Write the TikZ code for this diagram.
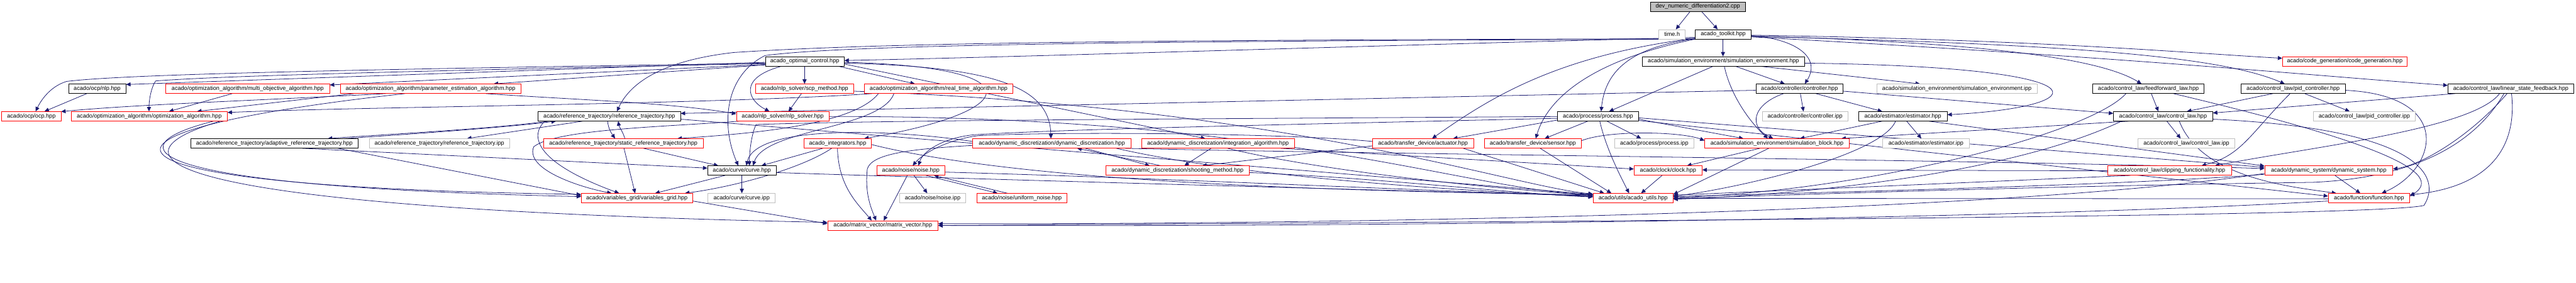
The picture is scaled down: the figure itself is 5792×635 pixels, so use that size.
\documentclass[tikz,border=0pt]{standalone}
\usepackage{fontspec}
\setmainfont{Liberation Sans}
\usetikzlibrary{arrows.meta,backgrounds}
\definecolor{edgec}{HTML}{191970}
\definecolor{redc}{HTML}{FF0000}
\definecolor{grayc}{HTML}{BFBFBF}
\tikzset{
 nb/.style={draw, fill=white, line width=1pt, inner sep=0pt, minimum height=21pt, font=\fontsize{12.9}{15}\selectfont, text=black},
 rb/.style={nb, draw=redc},
 kb/.style={nb, draw=black},
 gb/.style={nb, draw=grayc},
 dep/.style={draw=edgec, line width=1.1pt, -{Triangle[length=10pt,width=9pt]}},
}
\begin{document}
\begin{tikzpicture}[x=1pt,y=-1pt]
\useasboundingbox (0,0) rectangle (5792,635);
% ---------- nodes ----------
\node[kb, fill=grayc, minimum width=213pt] (dev) at (3817.5,15) {dev\_numeric\_differentiation2.cpp};
\node[gb, minimum width=59pt] (timeh) at (3759.5,77) {time.h};
\node[kb, minimum width=125pt] (toolkit) at (3874.5,77) {acado\_toolkit.hpp};
\node[kb, minimum width=177pt] (aoc) at (1809.5,138) {acado\_optimal\_control.hpp};
\node[kb, minimum width=364pt] (simenv) at (3875,138) {acado/simulation\_environment/simulation\_environment.hpp};
\node[rb, minimum width=280pt] (codegen) at (5272,138) {acado/code\_generation/code\_generation.hpp};
\node[kb, minimum width=129pt] (nlp) at (218.5,199.5) {acado/ocp/nlp.hpp};
\node[rb, minimum width=368pt] (moa) at (557,199.5) {acado/optimization\_algorithm/multi\_objective\_algorithm.hpp};
\node[rb, minimum width=406pt] (pea) at (968,199.5) {acado/optimization\_algorithm/parameter\_estimation\_algorithm.hpp};
\node[rb, minimum width=220pt] (scp) at (1809,199.5) {acado/nlp\_solver/scp\_method.hpp};
\node[rb, minimum width=333pt] (rta) at (2110.5,199.5) {acado/optimization\_algorithm/real\_time\_algorithm.hpp};
\node[kb, minimum width=196pt] (ctrl) at (4046,199.5) {acado/controller/controller.hpp};
\node[gb, minimum width=360pt] (simenvipp) at (4400,199.5) {acado/simulation\_environment/simulation\_environment.ipp};
\node[kb, minimum width=251pt] (ffl) at (4830.5,199.5) {acado/control\_law/feedforward\_law.hpp};
\node[kb, minimum width=234pt] (pid) at (5156,199.5) {acado/control\_law/pid\_controller.hpp};
\node[kb, minimum width=283pt] (lsf) at (5645.5,199.5) {acado/control\_law/linear\_state\_feedback.hpp};
\node[rb, minimum width=133pt] (ocp) at (70.5,261.5) {acado/ocp/ocp.hpp};
\node[rb, minimum width=351pt] (oa) at (335.5,261.5) {acado/optimization\_algorithm/optimization\_algorithm.hpp};
\node[kb, minimum width=320pt] (rt) at (1370,261.5) {acado/reference\_trajectory/reference\_trajectory.hpp};
\node[rb, minimum width=208pt] (nlps) at (1760,261.5) {acado/nlp\_solver/nlp\_solver.hpp};
\node[kb, minimum width=182pt] (proc) at (3593,261.5) {acado/process/process.hpp};
\node[gb, minimum width=193pt] (ctrlipp) at (4058.5,261.5) {acado/controller/controller.ipp};
\node[kb, minimum width=199pt] (est) at (4278.5,261.5) {acado/estimator/estimator.hpp};
\node[kb, minimum width=223pt] (cl) at (4863.5,261.5) {acado/control\_law/control\_law.hpp};
\node[gb, minimum width=230pt] (pidipp) at (5316,261.5) {acado/control\_law/pid\_controller.ipp};
\node[kb, minimum width=376pt] (art) at (617,322.5) {acado/reference\_trajectory/adaptive\_reference\_trajectory.hpp};
\node[gb, minimum width=316pt] (rtipp) at (988,322.5) {acado/reference\_trajectory/reference\_trajectory.ipp};
\node[rb, minimum width=359pt] (srt) at (1401.5,322.5) {acado/reference\_trajectory/static\_reference\_trajectory.hpp};
\node[rb, minimum width=151pt] (integ) at (1883.5,322.5) {acado\_integrators.hpp};
\node[rb, minimum width=356pt] (dd) at (2365,322.5) {acado/dynamic\_discretization/dynamic\_discretization.hpp};
\node[rb, minimum width=343pt] (ia) at (2738.5,322.5) {acado/dynamic\_discretization/integration\_algorithm.hpp};
\node[rb, minimum width=227pt] (act) at (3199.5,322.5) {acado/transfer\_device/actuator.hpp};
\node[rb, minimum width=219pt] (sens) at (3446.5,322.5) {acado/transfer\_device/sensor.hpp};
\node[gb, minimum width=179pt] (procipp) at (3719.5,322.5) {acado/process/process.ipp};
\node[rb, minimum width=325pt] (sb) at (3995.5,322.5) {acado/simulation\_environment/simulation\_block.hpp};
\node[gb, minimum width=195pt] (estipp) at (4330.5,322.5) {acado/estimator/estimator.ipp};
\node[gb, minimum width=218pt] (clipp) at (4916,322.5) {acado/control\_law/control\_law.ipp};
\node[kb, minimum width=154pt] (curve) at (1668,383.5) {acado/curve/curve.hpp};
\node[rb, minimum width=152pt] (noise) at (2048,383.5) {acado/noise/noise.hpp};
\node[rb, minimum width=323pt] (sm) at (2647.5,383.5) {acado/dynamic\_discretization/shooting\_method.hpp};
\node[rb, minimum width=153pt] (clock) at (3750.5,383.5) {acado/clock/clock.hpp};
\node[rb, minimum width=278pt] (clip) at (4878,383.5) {acado/control\_law/clipping\_functionality.hpp};
\node[rb, minimum width=288pt] (ds) at (5236,383.5) {acado/dynamic\_system/dynamic\_system.hpp};
\node[rb, minimum width=250pt] (vg) at (1432,445.5) {acado/variables\_grid/variables\_grid.hpp};
\node[gb, minimum width=151pt] (curveipp) at (1667.5,445.5) {acado/curve/curve.ipp};
\node[gb, minimum width=148pt] (noiseipp) at (2097,445.5) {acado/noise/noise.ipp};
\node[rb, minimum width=203pt] (unoise) at (2297.5,445.5) {acado/noise/uniform\_noise.hpp};
\node[rb, minimum width=180pt] (utils) at (3672,445.5) {acado/utils/acado\_utils.hpp};
\node[rb, minimum width=183pt] (func) at (5326.5,445.5) {acado/function/function.hpp};
\node[rb, minimum width=248pt] (mv) at (1985,507) {acado/matrix\_vector/matrix\_vector.hpp};
% ---------- edges ----------
\begin{pgfonlayer}{background}
\fill[white] (0,0) rectangle (5792,635);
% dev
\draw[dep] (3800,0 |- dev.south) -- (3768,0 |- timeh.north);
\draw[dep] (3826,0 |- dev.south) -- (3862,0 |- toolkit.north);
% toolkit
\draw[dep] (3874,0 |- toolkit.south) -- (3874,0 |- simenv.north);
\draw[dep] (toolkit.east |- 0,80) .. controls (4040,88) and (4095,130) .. (4058,0 |- ctrl.north);
\draw[dep] (toolkit.west |- 0,84) .. controls (3000,105) and (2300,128) .. (aoc.east |- 0,136);
\draw[dep] (toolkit.west |- 0,87) .. controls (3680,105) and (3610,150) .. (3600,0 |- proc.north);
\draw[dep] (toolkit.west |- 0,88) .. controls (3580,135) and (3480,220) .. (3453,0 |- sens.north);
\draw[dep] (toolkit.west |- 0,86) .. controls (3500,125) and (3350,220) .. (3220,0 |- act.north);
\draw[dep] (toolkit.east |- 0,79) .. controls (4600,90) and (4900,118) .. (codegen.west |- 0,131);
\draw[dep] (toolkit.east |- 0,81) .. controls (4450,95) and (4720,130) .. (4815,0 |- ffl.north);
\draw[dep] (toolkit.east |- 0,82) .. controls (4700,100) and (5000,130) .. (5137,0 |- pid.north);
\draw[dep] (toolkit.east |- 0,83) .. controls (4800,130) and (5200,170) .. (lsf.west |- 0,192);
\draw[dep] (toolkit.west |- 0,87) .. controls (2600,90) and (2000,95) .. (1650,118) .. controls (1500,135) and (1420,180) .. (1387,0 |- rt.north);
\draw[dep] (toolkit.west |- 0,88) .. controls (2600,92) and (1900,100) .. (1720,125) .. controls (1630,170) and (1620,280) .. (1660,0 |- curve.north);
% acado_optimal_control
\draw[dep] (1809,0 |- aoc.south) -- (1809,0 |- scp.north);
\draw[dep] (1757,0 |- aoc.south) .. controls (1660,175) and (1680,225) .. (1730,0 |- nlps.north);
\draw[dep] (aoc.west |- 0,140) -- (nlp.east |- 0,190);
\draw[dep] (aoc.west |- 0,142) .. controls (900,155) and (300,165) .. (150,183) .. controls (110,195) and (90,230) .. (80,0 |- ocp.north);
\draw[dep] (aoc.west |- 0,143) .. controls (1000,158) and (500,170) .. (350,182) .. controls (338,200) and (335,230) .. (335,0 |- oa.north);
\draw[dep] (aoc.west |- 0,145) -- (moa.east |- 0,191);
\draw[dep] (aoc.west |- 0,146) -- (1110,0 |- pea.north);
\draw[dep] (1885,0 |- aoc.south) -- (2057,0 |- rta.north);
\draw[dep] (aoc.east |- 0,140) .. controls (2330,150) and (2300,250) .. (1943,0 |- integ.north);
\draw[dep] (aoc.east |- 0,142) .. controls (2250,150) and (2360,200) .. (2363,0 |- dd.north);
\draw[dep] (aoc.east |- 0,144) -- (2710,0 |- ia.north);
% simulation environment
\draw[dep] (3852,0 |- simenv.south) -- (3618,0 |- proc.north);
\draw[dep] (3902,0 |- simenv.south) -- (4013,0 |- ctrl.north);
\draw[dep] (3877,0 |- simenv.south) .. controls (3890,210) and (3930,270) .. (3975,0 |- sb.north);
\draw[dep] (3957,0 |- simenv.south) -- (4317,0 |- simenvipp.north);
\draw[dep] (simenv.east |- 0,142) .. controls (4750,150) and (4720,240) .. (est.east |- 0,258);
% controller
\draw[dep] (4048,0 |- ctrl.south) -- (4055,0 |- ctrlipp.north);
\draw[dep] (4083,0 |- ctrl.south) -- (4232,0 |- est.north);
\draw[dep] (4010,0 |- ctrl.south) .. controls (3940,235) and (3930,285) .. (3987,0 |- sb.north);
\draw[dep] (ctrl.east |- 0,205) -- (cl.west |- 0,255);
\draw[dep] (ctrl.west |- 0,203) -- (rt.east |- 0,255);
% process
\draw[dep] (3613,0 |- proc.south) -- (3690,0 |- procipp.north);
\draw[dep] (3570,0 |- proc.south) -- (3473,0 |- sens.north);
\draw[dep] (proc.west |- 0,270) -- (3267,0 |- act.north);
\draw[dep] (3597,0 |- proc.south) .. controls (3610,330) and (3640,390) .. (3663,0 |- utils.north);
\draw[dep] (proc.east |- 0,268) -- (3920,0 |- sb.north);
\draw[dep] (proc.west |- 0,262) .. controls (2600,268) and (2000,270) .. (1700,280) .. controls (1690,300) and (1685,340) .. (1685,0 |- curve.north);
\draw[dep] (proc.east |- 0,265) -- (ds.west |- 0,376);
\draw[dep] (proc.east |- 0,271) -- (func.west |- 0,441);
\draw[dep] (proc.west |- 0,266) .. controls (2900,280) and (2400,290) .. (2190,303) .. controls (2120,310) and (2075,340) .. (2065,0 |- noise.north);
% transfer devices, simulation block, clock
\draw[dep] (3463,0 |- sens.south) -- (3623,0 |- utils.north);
\draw[dep] (sens.east |- 0,316) .. controls (3620,292) and (3780,296) .. (sb.west |- 0,316);
\draw[dep] (3290,0 |- act.south) -- (3607,0 |- utils.north);
\draw[dep] (act.west |- 0,328) -- (2703,0 |- sm.north);
\draw[dep] (act.west |- 0,318) .. controls (2900,300) and (2400,295) .. (2200,305) .. controls (2140,312) and (2080,340) .. (2052,0 |- noise.north);
\draw[dep] (3957,0 |- sb.south) -- (3793,0 |- clock.north);
\draw[dep] (3977,0 |- sb.south) -- (utils.east |- 0,437);
\draw[dep] (3737,0 |- clock.south) -- (3690,0 |- utils.north);
% estimator
\draw[dep] (4287,0 |- est.south) -- (4320,0 |- estipp.north);
\draw[dep] (4232,0 |- est.south) -- (4047,0 |- sb.north);
\draw[dep] (4262,0 |- est.south) .. controls (4230,350) and (3900,425) .. (utils.east |- 0,441);
\draw[dep] (4337,0 |- est.south) -- (ds.west |- 0,373);
% control law family
\draw[dep] (4872,0 |- cl.south) -- (4903,0 |- clipp.north);
\draw[dep] (4787,0 |- cl.south) -- (4140,0 |- sb.north);
\draw[dep] (4770,0 |- cl.south) .. controls (4500,400) and (4000,440) .. (utils.east |- 0,448);
\draw[dep] (cl.east |- 0,268) .. controls (5450,290) and (5490,400) .. (5450,462) .. controls (5350,485) and (4000,495) .. (mv.east |- 0,507);
\draw[dep] (4900,0 |- cl.south) .. controls (4950,400) and (5150,420) .. (5253,0 |- func.north);
\draw[dep] (4837,0 |- ffl.south) -- (4853,0 |- cl.north);
\draw[dep] (4780,0 |- ffl.south) .. controls (4700,300) and (4200,430) .. (utils.east |- 0,444);
\draw[dep] (4887,0 |- ffl.south) .. controls (5350,320) and (5500,390) .. (func.east |- 0,441);
\draw[dep] (5182,0 |- pid.south) -- (5283,0 |- pidipp.north);
\draw[dep] (5110,0 |- pid.south) -- (4917,0 |- cl.north);
\draw[dep] (5149,0 |- pid.south) .. controls (5060,300) and (5040,350) .. (4950,0 |- clip.north);
\draw[dep] (pid.east |- 0,203) .. controls (5520,215) and (5480,380) .. (5355,0 |- func.north);
\draw[dep] (5520,0 |- lsf.south) -- (cl.east |- 0,254);
\draw[dep] (5620,0 |- lsf.south) .. controls (5560,290) and (5200,330) .. (4980,0 |- clip.north);
\draw[dep] (5637,0 |- lsf.south) .. controls (5560,300) and (5450,370) .. (ds.east |- 0,380);
\draw[dep] (5647,0 |- lsf.south) .. controls (5660,330) and (5600,420) .. (func.east |- 0,438);
\draw[dep] (5630,0 |- lsf.south) .. controls (5560,330) and (5420,400) .. (5200,410) .. controls (4500,420) and (4000,440) .. (utils.east |- 0,446);
\draw[dep] (clip.west |- 0,384) -- (clock.east |- 0,382);
\draw[dep] (4790,0 |- clip.south) -- (utils.east |- 0,439);
\draw[dep] (5250,0 |- ds.south) -- (5307,0 |- func.north);
\draw[dep] (ds.west |- 0,390) .. controls (4500,480) and (3000,505) .. (mv.east |- 0,503);
\draw[dep] (ds.west |- 0,392) .. controls (4800,415) and (4200,430) .. (utils.east |- 0,442);
\draw[dep] (func.west |- 0,452) .. controls (4500,495) and (3000,510) .. (mv.east |- 0,507);
\draw[dep] (func.west |- 0,447) -- (utils.east |- 0,446);
% left part
\draw[dep] (195,0 |- nlp.south) -- (100,0 |- ocp.north);
\draw[dep] (522,0 |- moa.south) -- (380,0 |- oa.north);
\draw[dep] (795,0 |- pea.south) -- (443,0 |- oa.north);
\draw[dep] (867,0 |- pea.south) .. controls (600,225) and (300,235) .. (ocp.east |- 0,251);
\draw[dep] (1093,0 |- pea.south) .. controls (1300,225) and (1500,230) .. (nlps.west |- 0,256);
\draw[dep] (910,0 |- pea.south) .. controls (100,300) and (150,420) .. (vg.west |- 0,437);
\draw[dep] (480,0 |- oa.south) .. controls (250,330) and (300,420) .. (vg.west |- 0,442);
\draw[dep] (495,0 |- oa.south) .. controls (200,360) and (400,470) .. (mv.west |- 0,500);
\draw[dep] (1960,0 |- rta.south) .. controls (1600,235) and (800,240) .. (oa.east |- 0,253);
\draw[dep] (2010,0 |- rta.south) .. controls (1980,290) and (1720,290) .. (1693,0 |- curve.north);
\draw[dep] (1975,0 |- rta.south) .. controls (1920,280) and (1700,300) .. (1523,0 |- srt.north);
\draw[dep] (775,0 |- art.north) .. controls (950,300) and (1150,285) .. (1250,0 |- rt.south);
\draw[dep] (1235,0 |- rt.south) .. controls (1100,290) and (900,300) .. (737,0 |- art.north);
\draw[dep] (680,0 |- art.south) -- (curve.west |- 0,378);
\draw[dep] (760,0 |- art.south) -- (vg.west |- 0,440);
\draw[dep] (1310,0 |- rt.south) -- (1050,0 |- rtipp.north);
\draw[dep] (1366,0 |- rt.south) .. controls (1368,290) and (1375,300) .. (1383,0 |- srt.north);
\draw[dep] (1405,0 |- srt.north) .. controls (1400,295) and (1392,285) .. (1390,0 |- rt.south);
\draw[dep] (1225,0 |- rt.south) .. controls (1195,300) and (1190,360) .. (1392,0 |- vg.north);
\draw[dep] (rt.east |- 0,268) -- (utils.west |- 0,437);
\draw[dep] (1403,0 |- srt.south) -- (1428,0 |- vg.north);
\draw[dep] (1447,0 |- srt.south) -- (1615,0 |- curve.north);
\draw[dep] (1662,0 |- nlps.south) .. controls (1500,285) and (1250,290) .. (1200,330) .. controls (1180,380) and (1300,420) .. (1375,0 |- vg.north);
\draw[dep] (nlps.east |- 0,262) .. controls (2900,260) and (3300,430) .. (utils.west |- 0,437);
\draw[dep] (1802,0 |- scp.south) -- (1773,0 |- nlps.north);
\draw[dep] (scp.east |- 0,205) .. controls (2900,240) and (3400,420) .. (utils.west |- 0,436);
\draw[dep] (1850,0 |- integ.south) -- (1712,0 |- curve.north);
\draw[dep] (1870,0 |- integ.south) .. controls (1800,380) and (1650,420) .. (1540,0 |- vg.north);
\draw[dep] (1883,0 |- integ.south) .. controls (1885,420) and (1930,460) .. (1960,0 |- mv.north);
\draw[dep] (integ.east |- 0,325) .. controls (2300,410) and (3000,430) .. (utils.west |- 0,438);
\draw[dep] (1668,0 |- curve.south) -- (1668,0 |- curveipp.north);
\draw[dep] (1630,0 |- curve.south) -- (1473,0 |- vg.north);
\draw[dep] (curve.east |- 0,388) .. controls (2100,400) and (3000,425) .. (utils.west |- 0,440);
\draw[dep] (vg.east |- 0,452) -- (mv.west |- 0,503);
\draw[dep] (2055,0 |- noise.south) -- (2085,0 |- noiseipp.north);
\draw[dep] (2082,0 |- noise.south) -- (2243,0 |- unoise.north);
\draw[dep] (2040,0 |- noise.south) -- (1987,0 |- mv.north);
\draw[dep] (2265,0 |- unoise.north) -- (2100,0 |- noise.south);
\draw[dep] (noise.east |- 0,387) .. controls (2600,400) and (3100,425) .. (utils.west |- 0,441);
\draw[dep] (2440,0 |- dd.south) -- (2585,0 |- sm.north);
\draw[dep] (2610,0 |- sm.north) -- (2422,0 |- dd.south);
\draw[dep] (dd.west |- 0,318) .. controls (2000,290) and (1700,280) .. (1678,0 |- curve.north);
\draw[dep] (dd.west |- 0,327) .. controls (2050,335) and (1960,345) .. (1950,380) .. controls (1945,430) and (1955,460) .. (1970,0 |- mv.north);
\draw[dep] (2530,0 |- dd.south) .. controls (3000,345) and (4500,360) .. (ds.west |- 0,379);
\draw[dep] (2510,0 |- dd.south) .. controls (2800,400) and (3300,430) .. (utils.west |- 0,442);
\draw[dep] (2723,0 |- ia.south) -- (2663,0 |- sm.north);
\draw[dep] (2760,0 |- ia.south) .. controls (2950,380) and (3300,420) .. (utils.west |- 0,439);
\draw[dep] (2880,0 |- ia.south) -- (clock.west |- 0,380);
\draw[dep] (sm.east |- 0,388) .. controls (3100,400) and (3400,435) .. (utils.west |- 0,443);
\end{pgfonlayer}
\end{tikzpicture}
\end{document}
